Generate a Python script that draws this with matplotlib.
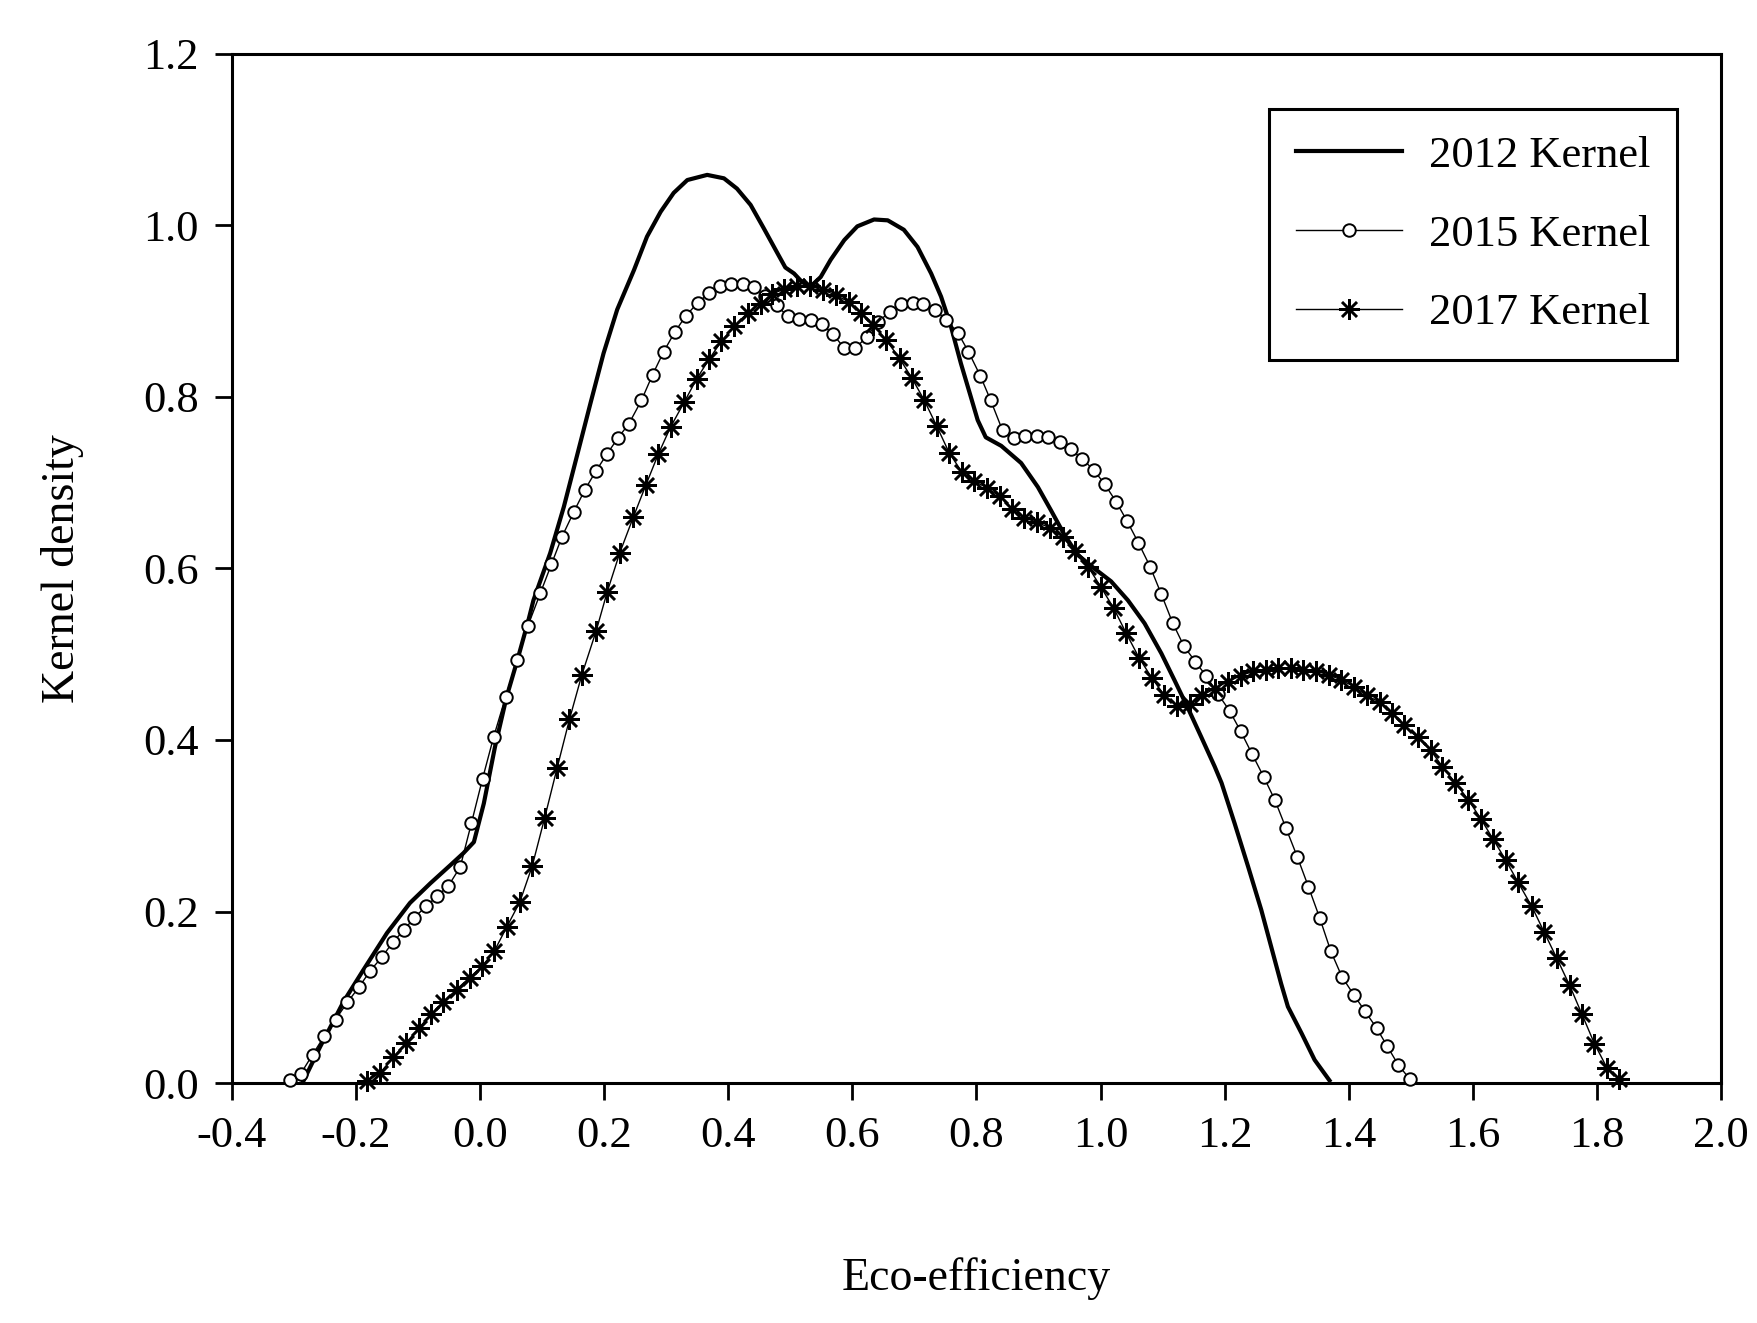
import matplotlib.pyplot as plt

plt.rcParams['font.family'] = ['Liberation Serif', 'DejaVu Serif']
plt.rcParams['axes.unicode_minus'] = False

# 2012 kernel (solid thick line)
x2012 = [-0.285, -0.258, -0.220, -0.188, -0.150, -0.113, -0.080, -0.048, -0.027, -0.010,
         0.006, 0.024, 0.043, 0.060, 0.078, 0.086, 0.113, 0.135, 0.156, 0.178,
         0.199, 0.221, 0.248, 0.269, 0.291, 0.312, 0.334, 0.366, 0.393, 0.414,
         0.436, 0.457, 0.479, 0.492, 0.506, 0.519, 0.533, 0.549, 0.565, 0.587,
         0.608, 0.635, 0.657, 0.683, 0.705, 0.727, 0.743, 0.759, 0.775, 0.791,
         0.802, 0.815, 0.840, 0.872, 0.899, 0.920, 0.942, 0.963, 0.990, 1.017,
         1.044, 1.071, 1.098, 1.119, 1.141, 1.162, 1.184, 1.195, 1.216, 1.238,
         1.259, 1.275, 1.291, 1.302, 1.324, 1.345, 1.369]
y2012 = [0.002, 0.042, 0.095, 0.132, 0.175, 0.210, 0.233, 0.254, 0.268, 0.281,
         0.326, 0.392, 0.451, 0.493, 0.540, 0.563, 0.618, 0.672, 0.731, 0.793,
         0.851, 0.902, 0.948, 0.987, 1.016, 1.038, 1.053, 1.059, 1.055, 1.043,
         1.024, 0.997, 0.968, 0.951, 0.944, 0.934, 0.929, 0.940, 0.960, 0.983,
         0.999, 1.007, 1.006, 0.995, 0.975, 0.944, 0.917, 0.882, 0.839, 0.800,
         0.773, 0.753, 0.743, 0.723, 0.695, 0.668, 0.639, 0.616, 0.600, 0.585,
         0.563, 0.536, 0.501, 0.470, 0.437, 0.404, 0.369, 0.350, 0.303, 0.252,
         0.202, 0.159, 0.116, 0.089, 0.058, 0.027, 0.003]

# 2015 kernel (open circles)
x2015 = [-0.306, -0.289, -0.270, -0.251, -0.233, -0.214, -0.195, -0.177, -0.158, -0.141,
         -0.123, -0.106, -0.087, -0.069, -0.051, -0.032, -0.014, 0.004, 0.022, 0.041,
         0.060, 0.077, 0.097, 0.115, 0.132, 0.151, 0.169, 0.187, 0.205, 0.222,
         0.240, 0.260, 0.278, 0.296, 0.314, 0.332, 0.351, 0.369, 0.386, 0.405,
         0.424, 0.441, 0.459, 0.478, 0.496, 0.514, 0.533, 0.551, 0.569, 0.587,
         0.605, 0.623, 0.641, 0.661, 0.679, 0.697, 0.714, 0.733, 0.751, 0.770,
         0.787, 0.806, 0.823, 0.842, 0.861, 0.879, 0.897, 0.915, 0.934, 0.952,
         0.970, 0.989, 1.007, 1.025, 1.043, 1.061, 1.080, 1.098, 1.116, 1.134,
         1.153, 1.170, 1.189, 1.208, 1.226, 1.244, 1.263, 1.281, 1.299, 1.317,
         1.335, 1.353, 1.371, 1.389, 1.408, 1.426, 1.445, 1.462, 1.480, 1.498]
y2015 = [0.003, 0.011, 0.033, 0.055, 0.074, 0.094, 0.112, 0.131, 0.147, 0.164,
         0.178, 0.193, 0.206, 0.218, 0.230, 0.252, 0.303, 0.355, 0.404, 0.450,
         0.493, 0.533, 0.571, 0.605, 0.637, 0.666, 0.692, 0.714, 0.734, 0.752,
         0.769, 0.796, 0.826, 0.853, 0.876, 0.895, 0.910, 0.921, 0.929, 0.932,
         0.932, 0.928, 0.918, 0.907, 0.894, 0.891, 0.890, 0.885, 0.873, 0.857,
         0.857, 0.870, 0.888, 0.899, 0.908, 0.910, 0.909, 0.902, 0.890, 0.875,
         0.853, 0.825, 0.796, 0.761, 0.752, 0.754, 0.755, 0.753, 0.747, 0.739,
         0.728, 0.715, 0.698, 0.678, 0.655, 0.630, 0.602, 0.570, 0.537, 0.510,
         0.491, 0.475, 0.454, 0.434, 0.410, 0.384, 0.357, 0.330, 0.297, 0.264,
         0.229, 0.193, 0.154, 0.124, 0.103, 0.084, 0.064, 0.043, 0.021, 0.005]

# 2017 kernel (asterisks)
x2017 = [-0.183, -0.161, -0.140, -0.119, -0.099, -0.079, -0.059, -0.038, -0.017, 0.003,
         0.023, 0.043, 0.064, 0.084, 0.104, 0.124, 0.144, 0.164, 0.187, 0.205,
         0.225, 0.247, 0.267, 0.287, 0.307, 0.329, 0.349, 0.369, 0.389, 0.410,
         0.431, 0.452, 0.471, 0.490, 0.511, 0.532, 0.552, 0.573, 0.594, 0.614,
         0.634, 0.655, 0.676, 0.696, 0.716, 0.736, 0.756, 0.776, 0.796, 0.817,
         0.838, 0.858, 0.877, 0.898, 0.919, 0.939, 0.959, 0.980, 1.000, 1.021,
         1.041, 1.062, 1.083, 1.103, 1.123, 1.144, 1.164, 1.184, 1.205, 1.226,
         1.246, 1.266, 1.286, 1.307, 1.327, 1.348, 1.368, 1.388, 1.409, 1.429,
         1.450, 1.470, 1.489, 1.511, 1.532, 1.551, 1.572, 1.593, 1.613, 1.633,
         1.653, 1.673, 1.695, 1.715, 1.735, 1.756, 1.776, 1.796, 1.816, 1.836]
y2017 = [0.002, 0.012, 0.030, 0.047, 0.064, 0.080, 0.095, 0.109, 0.123, 0.136,
         0.154, 0.182, 0.211, 0.253, 0.309, 0.367, 0.424, 0.476, 0.527, 0.573,
         0.618, 0.660, 0.697, 0.733, 0.765, 0.794, 0.821, 0.844, 0.865, 0.883,
         0.898, 0.909, 0.920, 0.926, 0.929, 0.929, 0.925, 0.919, 0.911, 0.898,
         0.884, 0.866, 0.845, 0.822, 0.796, 0.766, 0.735, 0.713, 0.702, 0.694,
         0.684, 0.669, 0.659, 0.654, 0.647, 0.637, 0.620, 0.602, 0.579, 0.554,
         0.525, 0.496, 0.472, 0.452, 0.440, 0.442, 0.452, 0.460, 0.468, 0.475,
         0.480, 0.482, 0.484, 0.484, 0.482, 0.480, 0.476, 0.470, 0.462, 0.452,
         0.444, 0.431, 0.417, 0.403, 0.388, 0.369, 0.350, 0.330, 0.308, 0.284,
         0.260, 0.234, 0.206, 0.176, 0.146, 0.114, 0.080, 0.046, 0.018, 0.005]

xticks = [-0.4, -0.2, 0.0, 0.2, 0.4, 0.6, 0.8, 1.0, 1.2, 1.4, 1.6, 1.8, 2.0]
xticklabels = ['-0.4', '-0.2', '0.0', '0.2', '0.4', '0.6', '0.8', '1.0', '1.2', '1.4', '1.6', '1.8', '2.0']
yticks = [0.0, 0.2, 0.4, 0.6, 0.8, 1.0, 1.2]
yticklabels = ['0.0', '0.2', '0.4', '0.6', '0.8', '1.0', '1.2']

fig = plt.figure(figsize=(17.57, 13.23), dpi=100)
ax = fig.add_axes([0.132, 0.1814, 0.8475, 0.7778])

ax.plot(x2012, y2012, color='k', lw=3.0, label='2012 Kernel', clip_on=False, zorder=3)
ax.plot(x2015, y2015, color='k', lw=1.0, marker='o', ms=9, mfc='white', mec='k', mew=1.4,
        label='2015 Kernel', clip_on=False, zorder=4)
ax.plot(x2017, y2017, color='k', lw=1.0, marker=(8, 2, 0), ms=15, mew=1.8,
        label='2017 Kernel', clip_on=False, zorder=5)

ax.set_xlim(-0.4, 2.0)
ax.set_ylim(0, 1.2)
ax.set_xticks(xticks)
ax.set_xticklabels(xticklabels)
ax.set_yticks(yticks)
ax.set_yticklabels(yticklabels)
ax.tick_params(direction='out', length=12, width=2.0, labelsize=32, pad=12)

for s in ax.spines.values():
    s.set_linewidth(2.2)

ax.set_xlabel('Eco-efficiency', fontsize=33, va='center')
ax.set_ylabel('Kernel density', fontsize=33, va='center')
ax.xaxis.set_label_coords(0.5, -0.19)
ax.yaxis.set_label_coords(-0.114, 0.5)

# legend box placed where it sits in the original figure
leg = ax.legend(loc='upper left', bbox_to_anchor=(1269 / 1757, 1 - 109 / 1323),
                bbox_transform=fig.transFigure, borderaxespad=0, fontsize=32,
                frameon=True, fancybox=False, edgecolor='k', framealpha=1,
                handlelength=2.4, handletextpad=0.6, labelspacing=0.87,
                borderpad=0.6)
leg.get_frame().set_linewidth(2.2)

fig.savefig('out.png', dpi=100)
